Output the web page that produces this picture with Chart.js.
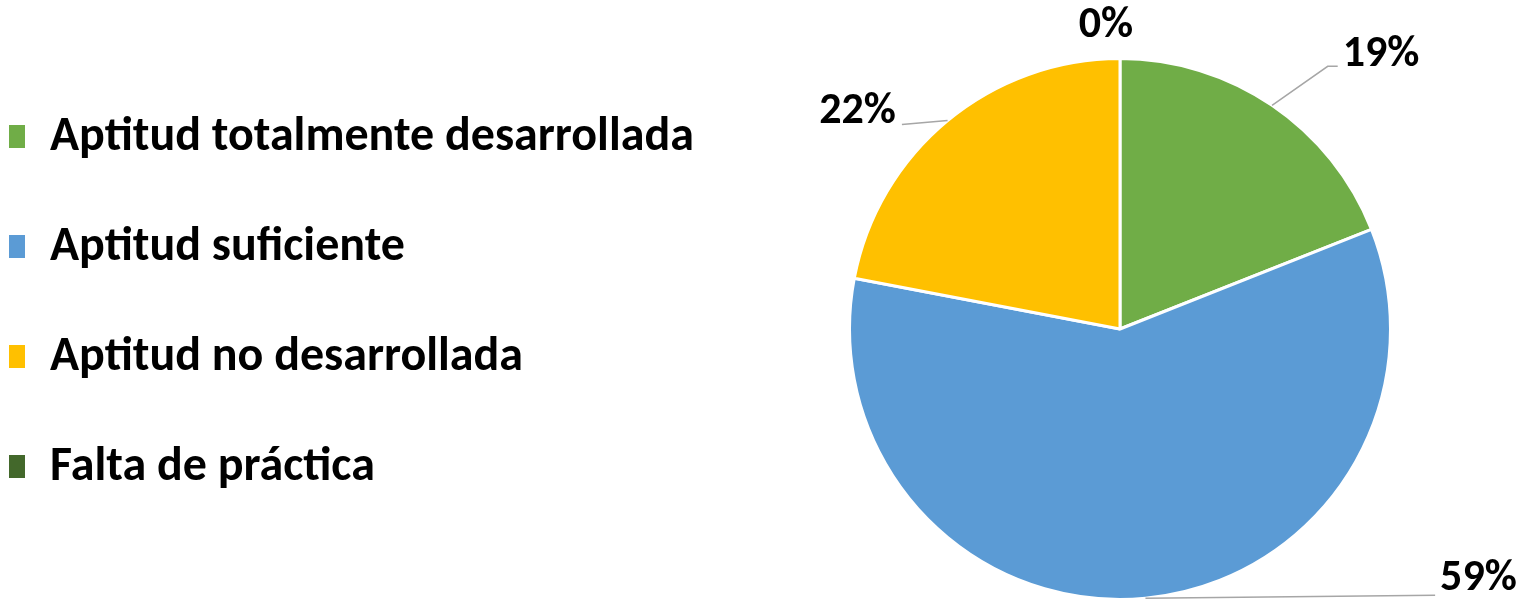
<!DOCTYPE html>
<html>
<head>
<meta charset="utf-8">
<script src="https://cdn.jsdelivr.net/npm/chart.js@4.4.1/dist/chart.umd.min.js"></script>
<style>
    html, body { margin: 0; padding: 0; background: #ffffff; overflow: hidden; }
    #chart { display: block; }
</style>
</head>
<body>
<canvas id="chart" width="1534" height="601"></canvas>
<script>
// Chart data
const categories = ['Aptitud totalmente desarrollada', 'Aptitud suficiente', 'Aptitud no desarrollada', 'Falta de práctica'];
const percentages = [19, 59, 22, 0];
const sliceColors = ['#70AD47', '#5B9BD5', '#FFC000', '#43682B'];

const FONT = 'Carlito, "Liberation Sans Narrow", "Open Sans", sans-serif';

// Where each percentage label sits, relative to the middle of its slice edge
const labelOffsets = [[109, -50], [333, -19], [-90, -9], [-14, -33]];

// Legend on the left, drawn from the chart's own labels and colours
const sideLegend = {
    id: 'sideLegend',
    afterDraw(chart) {
        const ctx = chart.ctx;
        const colors = chart.data.datasets[0].backgroundColor;
        ctx.save();
        ctx.font = 'bold 48px ' + FONT;
        ctx.textBaseline = 'middle';
        chart.data.labels.forEach((label, i) => {
            const y = 137 + i * 110;
            ctx.fillStyle = colors[i];
            ctx.fillRect(9, y - 12, 16, 23);
            ctx.fillStyle = '#000000';
            ctx.fillText(label, 50, y + 1);
        });
        ctx.restore();
    }
};

// Percentage labels with leader lines
const outsideLabels = {
    id: 'outsideLabels',
    afterDatasetsDraw(chart) {
        const ctx = chart.ctx;
        const meta = chart.getDatasetMeta(0);
        const values = chart.data.datasets[0].data;
        ctx.save();
        ctx.font = 'bold 44px ' + FONT;
        ctx.textAlign = 'center';
        ctx.textBaseline = 'middle';
        meta.data.forEach((arc, i) => {
            const mid = (arc.startAngle + arc.endAngle) / 2;
            const ax = arc.x + Math.cos(mid) * arc.outerRadius;
            const ay = arc.y + Math.sin(mid) * arc.outerRadius;
            const lx = ax + labelOffsets[i][0];
            const ly = ay + labelOffsets[i][1];
            const text = values[i] + '%';
            const w = ctx.measureText(text).width;

            if (values[i] > 0) {
                ctx.strokeStyle = '#A6A6A6';
                ctx.lineWidth = 1.5;
                ctx.beginPath();
                ctx.moveTo(ax, ay);
                if (lx > ax) {
                    const left = lx - w / 2 - 5;
                    if (ly < ay - 20) {
                        ctx.lineTo(left - 10, ly + 11);
                        ctx.lineTo(left, ly + 11);
                    } else {
                        ctx.lineTo(left, ly + 16);
                    }
                } else {
                    const right = lx + w / 2 + 6;
                    ctx.lineTo(right, ly + 13);
                }
                ctx.stroke();
            }

            ctx.fillStyle = '#000000';
            ctx.fillText(text, lx, ly);
        });
        ctx.restore();
    }
};

new Chart(document.getElementById('chart'), {
    type: 'pie',
    data: {
        labels: categories,
        datasets: [{
            data: percentages,
            backgroundColor: sliceColors,
            borderColor: '#ffffff',
            borderWidth: 3
        }]
    },
    options: {
        responsive: false,
        animation: false,
        devicePixelRatio: 1,
        layout: {
            padding: { left: 706, top: 57, right: 0, bottom: 0 }
        },
        plugins: {
            legend: { display: false },
            tooltip: { enabled: false }
        }
    },
    plugins: [outsideLabels, sideLegend]
});
</script>
</body>
</html>
